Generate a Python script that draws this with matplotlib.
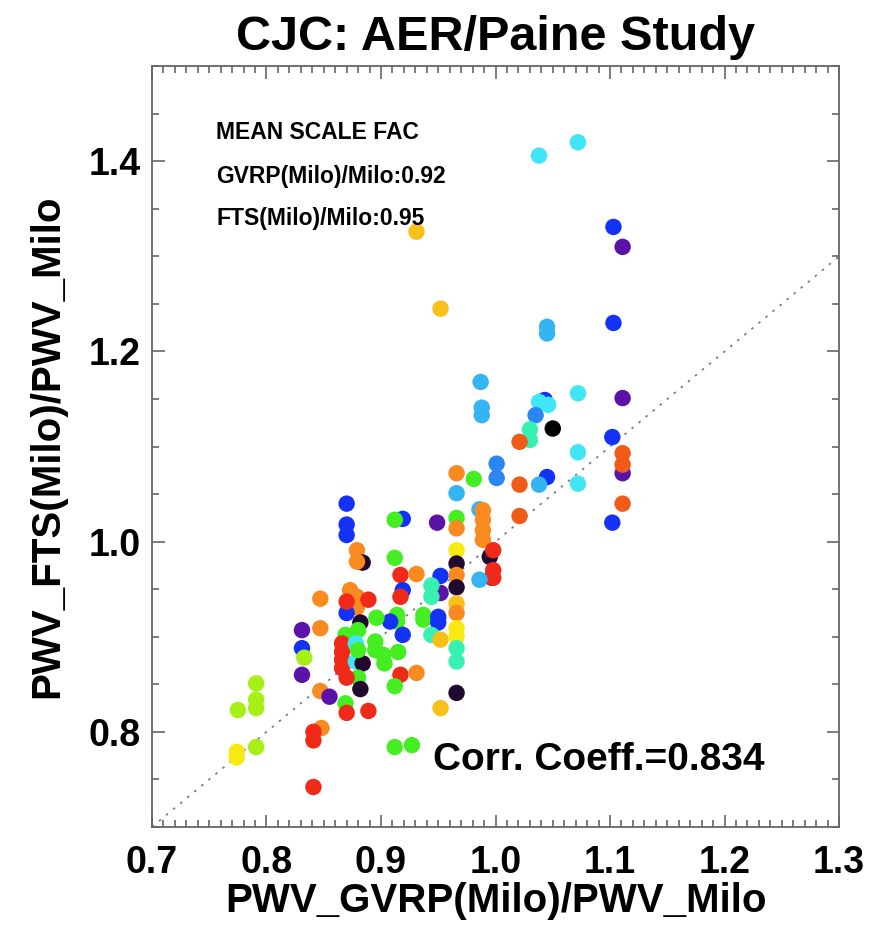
import matplotlib
matplotlib.use("Agg")
import matplotlib.pyplot as plt
from matplotlib.ticker import MultipleLocator, FormatStrFormatter

plt.rcParams["font.family"] = ["Liberation Sans", "DejaVu Sans"]
plt.rcParams["font.weight"] = "bold"

# ratio pairs, grp = colour class of each point
gvrp = [0.870, 0.870, 0.870, 0.919, 0.912, 0.949, 0.966, 0.966, 0.986, 0.989,
        0.989, 0.989, 0.989, 0.995, 0.998, 0.997, 0.998, 0.998, 0.986, 0.879,
        0.884, 0.879, 0.912, 0.917, 0.931, 0.952, 0.966, 0.966, 0.966, 0.966,
        0.919, 0.917, 0.952, 0.944, 0.944, 0.873, 0.879, 0.879, 0.870, 0.870,
        0.889, 0.847, 0.966, 0.966, 0.914, 0.914, 0.937, 0.937, 0.950, 0.950,
        0.882, 0.908, 0.896, 0.919, 0.831, 0.847, 0.869, 0.880, 0.944, 0.952,
        0.966, 0.966, 0.966, 0.966, 0.866, 0.866, 0.866, 0.866, 0.878, 0.878,
        0.884, 0.880, 0.895, 0.895, 0.902, 0.903, 0.915, 0.831, 0.833, 0.831,
        0.880, 0.870, 0.882, 0.917, 0.931, 0.912, 0.966, 0.952, 0.791, 0.791,
        0.791, 0.775, 0.847, 0.855, 0.869, 0.870, 0.889, 0.848, 0.841, 0.841,
        0.791, 0.774, 0.774, 0.912, 0.927, 0.841,
        0.987, 0.988, 0.988, 1.043, 1.038, 1.046, 1.072, 1.111, 1.035, 1.030,
        1.030, 1.050, 1.021, 1.102, 1.072, 1.111, 1.111, 1.111, 1.001, 1.001,
        0.966, 0.981, 0.966, 1.021, 1.045, 1.038, 1.072, 1.111, 1.102, 1.021,
        1.038, 1.072, 0.931, 1.103, 1.111, 0.952, 1.045, 1.045, 1.103]
fts = [1.040, 1.018, 1.007, 1.024, 1.023, 1.020, 1.025, 1.014, 1.034, 1.033,
       1.023, 1.012, 1.002, 0.984, 0.991, 0.962, 0.970, 0.962, 0.960, 0.991,
       0.978, 0.979, 0.983, 0.965, 0.966, 0.964, 0.991, 0.977, 0.965, 0.952,
       0.949, 0.942, 0.946, 0.954, 0.942, 0.949, 0.942, 0.931, 0.925, 0.937,
       0.939, 0.940, 0.935, 0.925, 0.923, 0.916, 0.923, 0.918, 0.921, 0.915,
       0.915, 0.916, 0.920, 0.902, 0.907, 0.909, 0.902, 0.907, 0.902, 0.897,
       0.909, 0.900, 0.888, 0.874, 0.893, 0.884, 0.876, 0.867, 0.893, 0.874,
       0.872, 0.886, 0.895, 0.886, 0.881, 0.872, 0.884, 0.888, 0.878, 0.860,
       0.857, 0.857, 0.845, 0.860, 0.862, 0.848, 0.841, 0.825, 0.851, 0.834,
       0.825, 0.823, 0.843, 0.837, 0.830, 0.820, 0.822, 0.804, 0.800, 0.791,
       0.784, 0.779, 0.773, 0.784, 0.786, 0.742,
       1.168, 1.141, 1.133, 1.149, 1.147, 1.144, 1.156, 1.151, 1.133, 1.118,
       1.107, 1.119, 1.105, 1.110, 1.094, 1.072, 1.093, 1.081, 1.082, 1.067,
       1.072, 1.066, 1.051, 1.060, 1.068, 1.060, 1.061, 1.040, 1.020, 1.027,
       1.406, 1.420, 1.326, 1.331, 1.310, 1.245, 1.226, 1.219, 1.230]
grp = [3, 3, 3, 3, 8, 2, 8, 12, 5, 12,
       12, 12, 12, 1, 14, 1, 14, 14, 5, 12,
       1, 12, 8, 14, 12, 3, 10, 1, 12, 1,
       3, 14, 2, 7, 7, 12, 12, 12, 3, 14,
       14, 12, 11, 12, 8, 8, 8, 8, 3, 3,
       1, 3, 8, 3, 2, 12, 8, 8, 7, 11,
       10, 10, 7, 7, 14, 14, 14, 14, 6, 6,
       1, 8, 8, 8, 8, 8, 8, 3, 9, 2,
       8, 14, 1, 14, 12, 8, 1, 11, 9, 9,
       9, 9, 12, 2, 8, 14, 14, 12, 14, 14,
       9, 10, 10, 8, 8, 14,
       5, 5, 5, 3, 6, 6, 6, 2, 4, 7,
       7, 0, 13, 3, 6, 2, 13, 13, 4, 4,
       12, 8, 5, 13, 3, 5, 6, 13, 3, 13,
       6, 6, 11, 3, 2, 11, 5, 5, 3]

mean_labels = ["MEAN SCALE FAC", "GVRP(Milo)/Milo:0.92", "FTS(Milo)/Milo:0.95"]
corr_coeff = 0.834

palette = ["#000000", "#220a2e", "#5a12a8", "#1432f5", "#2a86f0", "#34b4f2",
           "#40e6f6", "#38f0b0", "#44ee22", "#a6f016", "#f8ea10", "#f8c018",
           "#f88a20", "#f05c18", "#f02a18"]
colors = [palette[g] for g in grp]

fig = plt.figure(figsize=(8.82, 9.30), dpi=100)
ax = fig.add_axes([0.1723, 0.1108, 0.779, 0.818])

ax.plot([0.7, 1.3], [0.7, 1.3], color="#777777", linestyle=(0, (1.5, 4)), linewidth=1.2, zorder=1)
ax.scatter(gvrp, fts, s=140, c=colors, edgecolors="none", zorder=2)

ax.set_xlim(0.7, 1.3)
ax.set_ylim(0.7, 1.5)
ax.xaxis.set_major_locator(MultipleLocator(0.1))
ax.xaxis.set_minor_locator(MultipleLocator(0.01))
ax.yaxis.set_major_locator(MultipleLocator(0.2))
ax.yaxis.set_minor_locator(MultipleLocator(0.05))
ax.xaxis.set_major_formatter(FormatStrFormatter("%.1f"))
ax.yaxis.set_major_formatter(FormatStrFormatter("%.1f"))
ax.set_yticks([0.8, 1.0, 1.2, 1.4])

ax.tick_params(which="both", direction="in", top=True, right=True, color="#666666", width=1.2)
ax.tick_params(which="major", length=9, labelsize=27)
ax.tick_params(which="minor", length=5)
ax.tick_params(axis="x", which="major", pad=13)
ax.tick_params(axis="y", which="major", pad=8)
for side in ax.spines.values():
    side.set_color("#666666")
    side.set_linewidth(1.3)

ax.set_xlabel("PWV_GVRP(Milo)/PWV_Milo", fontsize=29, fontweight="bold", labelpad=1)
ax.set_ylabel("PWV_FTS(Milo)/PWV_Milo", fontsize=29, fontweight="bold", labelpad=16)
ax.set_title("CJC: AER/Paine Study", fontsize=35, fontweight="bold", pad=12)

for label, ypos in zip(mean_labels, [1.430, 1.384, 1.340]):
    ax.text(0.756, ypos, label, fontsize=16.5, fontweight="bold", va="center", ha="left")
ax.text(0.945, 0.770, f"Corr. Coeff.={corr_coeff:.3f}", fontsize=28, fontweight="bold", va="center", ha="left")

fig.savefig("out.png", dpi=100)
plt.close(fig)
